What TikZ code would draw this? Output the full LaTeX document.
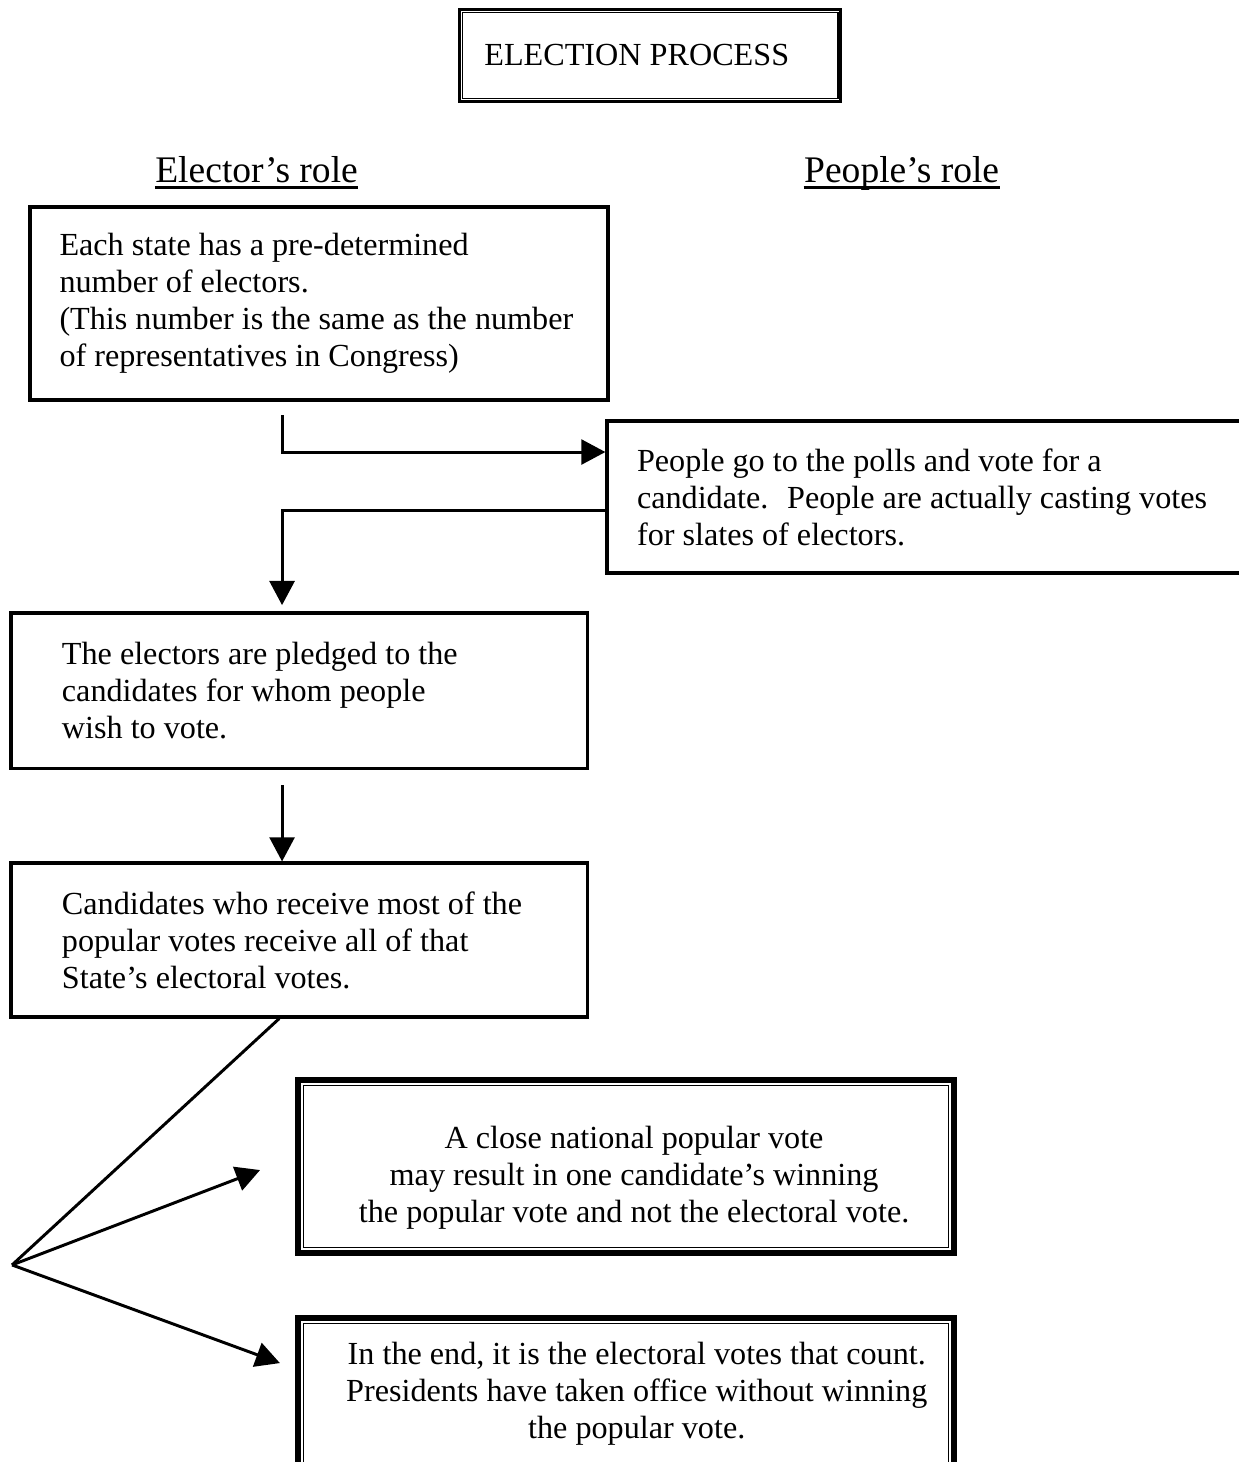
\documentclass[tikz,border=0pt]{standalone}
\usepackage{fontspec}
\setmainfont{Liberation Serif}
\usetikzlibrary{arrows.meta}

\begin{document}
\begin{tikzpicture}[x=1pt,y=-1pt,
  txt/.style={font=\fontsize{12}{13.8}\selectfont},
  box/.style={txt,draw,line width=1.2pt,align=flush left,inner ysep=0pt},
  head/.style={font=\fontsize{14}{16}\selectfont,anchor=base,inner sep=0pt},
  framed/.style={draw,line width=2.4pt,minimum width=244.7pt},
  arr/.style={line width=1.1pt,-{Triangle[length=9pt,width=9.3pt]}}]
\useasboundingbox (0,0) rectangle (461.8,545.3);

% title
\node[txt,draw,line width=1.2pt,minimum width=142.1pt,minimum height=34.2pt] (title) at (242.5,20.7) {ELECTION PROCESS\hspace*{10pt}};
\draw[line width=.5pt] ([shift={(1.6pt,-1.6pt)}]title.north west) rectangle ([shift={(-1.6pt,1.6pt)}]title.south east);

\node[head] (elector) at (95.7,67.9) {Elector’s role};
\node[head] (people) at (336.3,67.9) {People’s role};
\foreach \n in {elector,people}
  \draw[line width=1.1pt] ([yshift=-2.2pt]\n.base west) -- ([yshift=-2.2pt]\n.base east);

% steps
\node[box,text width=193.6pt,inner xsep=11pt,minimum height=72pt] (states) at (119,113.2) {Each state has a pre-determined\\number of electors.\\(This number is the same as the number\\of representatives in Congress)};
\node[box,text width=221.2pt,inner xsep=11.2pt,minimum height=56.7pt] (polls) at (348.2,185.35) {People go to the polls and vote for a\\candidate.~ People are actually casting votes\\for slates of electors.};
\node[box,text width=176.9pt,inner xsep=19pt,minimum height=57.9pt] (pledged) at (111.55,257.55) {The electors are pledged to the\\candidates for whom people\\wish to vote.};
\node[box,text width=176.9pt,inner xsep=19pt,minimum height=57.4pt] (winner) at (111.55,350.6) {Candidates who receive most of the\\popular votes receive all of that\\State’s electoral votes.};

% outcomes
\node[framed,minimum height=64.5pt] (close) at (233.5,435.1) {};
\node[framed,minimum height=56.7pt] (count) at (233.5,520) {};
\foreach \n in {close,count}{
  \draw[line width=.4pt] ([shift={(1.75pt,-1.75pt)}]\n.north west) rectangle ([shift={(-1.75pt,1.75pt)}]\n.south east);
  \draw[line width=.4pt] ([shift={(3.35pt,-3.35pt)}]\n.north west) rectangle ([shift={(-3.35pt,3.35pt)}]\n.south east);
}
\node[txt,align=center] (closetext) at ([shift={(3pt,-4pt)}]close.center) {A close national popular vote\\may result in one candidate’s winning\\the popular vote and not the electoral vote.};
\node[txt,align=center] (counttext) at ([shift={(4pt,0pt)}]count.center) {In the end, it is the electoral votes that count.\\Presidents have taken office without winning\\the popular vote.};

% connectors
\coordinate (s1) at (105.2,154.8);
\coordinate (s2) at (105.2,225.7);
\coordinate (s3) at (105.2,292.8);
\coordinate (fork) at (4.5,471.8);
\coordinate (t1) at (97,436.4);
\coordinate (t2) at (104.4,508.4);
\draw[arr] (s1) |- ([yshift=16.75pt]polls.west);
\draw[arr] ([yshift=-5.2pt]polls.west) -| (s2);
\draw[arr] (s3) -- (s3 |- winner.north);
\draw[line width=1.1pt] ([xshift=-7.4pt]winner.south) -- (fork);
\draw[arr] (fork) -- (t1);
\draw[arr] (fork) -- (t2);
\end{tikzpicture}
\end{document}
